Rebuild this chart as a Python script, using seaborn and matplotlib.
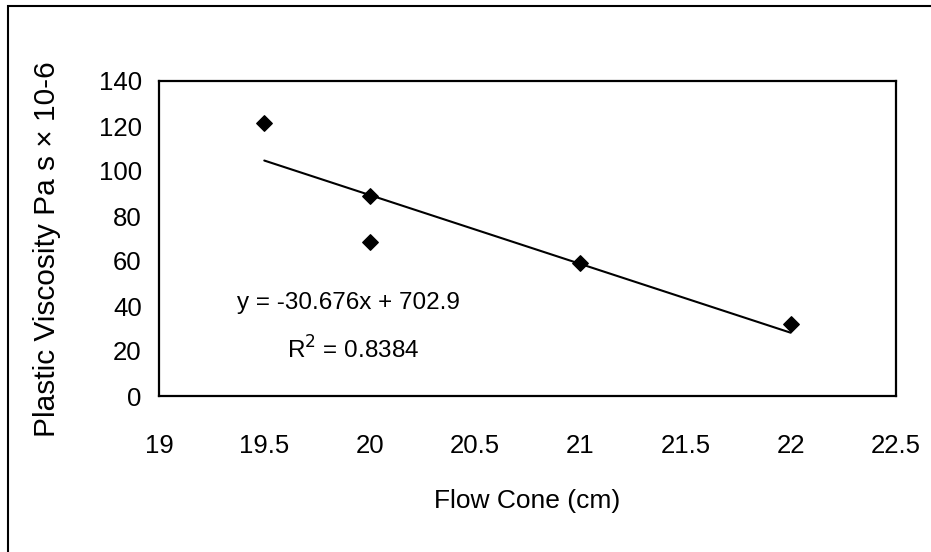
import matplotlib
matplotlib.use("Agg")
import numpy as np
import pandas as pd
import seaborn as sns
import matplotlib.pyplot as plt
from matplotlib.patches import Rectangle

# values
flow_cone = [19.5, 20.0, 20.0, 21.0, 22.0]
plastic_visc = [121.5, 89.0, 68.5, 59.0, 32.2]
x_ticks = [19, 19.5, 20, 20.5, 21, 21.5, 22, 22.5]
y_ticks = [0, 20, 40, 60, 80, 100, 120, 140]

df = pd.DataFrame({"flow": flow_cone, "visc": plastic_visc})

sns.set_style("white")
plt.rcParams["font.family"] = ["Liberation Sans", "DejaVu Sans"]
plt.rcParams.update({"text.color": "black", "axes.labelcolor": "black",
                     "xtick.color": "black", "ytick.color": "black"})

fig = plt.figure(figsize=(9.31, 5.52), dpi=100)
ax = fig.add_axes([159 / 931, 1 - 396 / 552, 737 / 931, 315 / 552])

sns.regplot(data=df, x="flow", y="visc", ax=ax, ci=None, marker="D",
            scatter_kws={"s": 62, "color": "black", "edgecolors": "black",
                         "alpha": 1},
            line_kws={"color": "black", "lw": 1.5})

ax.set_xlim(19, 22.5)
ax.set_ylim(0, 140)
ax.set_xticks(x_ticks)
ax.set_xticklabels([f"{t:g}" for t in x_ticks])
ax.set_yticks(y_ticks)
ax.tick_params(axis="both", direction="inout", length=11, width=0.8,
               color="black", labelcolor="black", labelsize=18.5)
ax.tick_params(axis="x", pad=22)
ax.tick_params(axis="y", pad=7)
for s in ax.spines.values():
    s.set_color("black")
    s.set_linewidth(1.6)

ax.set_xlabel("Flow Cone (cm)", fontsize=19, color="black")
ax.xaxis.set_label_coords(0.499, -0.295)
ax.set_ylabel("")
fig.text(47 / 931, 1 - 249 / 552, "Plastic Viscosity Pa s × 10-6",
         fontsize=21.5, rotation=90, ha="center", va="center", color="black")

ax.text(0.106, 0.295, "y = -30.676x + 702.9", transform=ax.transAxes,
        fontsize=17.5, va="center", ha="left", color="black")
ax.text(0.174, 0.146, "R$^2$ = 0.8384", transform=ax.transAxes,
        fontsize=17.5, va="center", ha="left", color="black")

fig.patches.append(Rectangle((8 / 931, -0.1), 1.0, 1.1 - 6 / 552,
                             transform=fig.transFigure, fill=False,
                             lw=1.5, edgecolor="black"))

fig.savefig("out.png", dpi=100)
